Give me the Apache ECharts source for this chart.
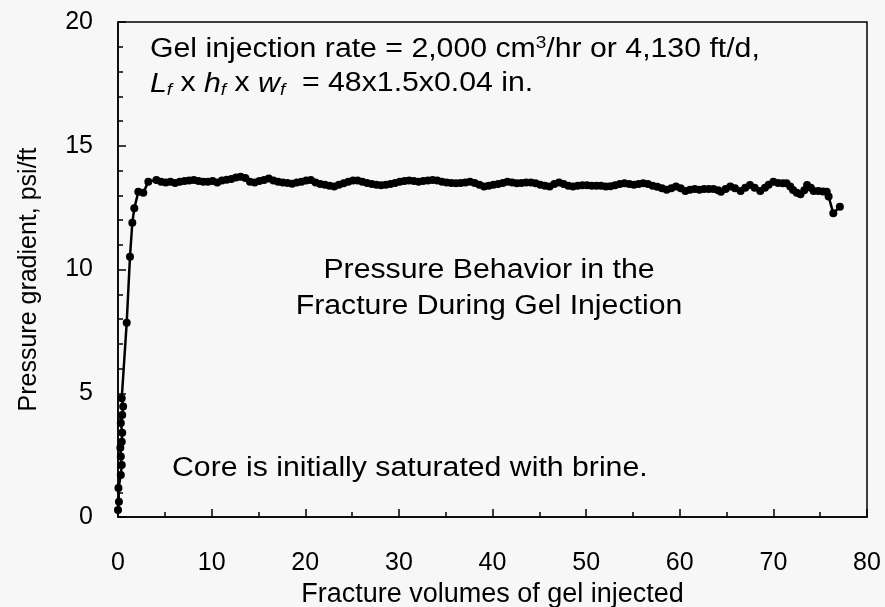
<!DOCTYPE html>
<html>
<head>
<meta charset="utf-8">
<script src="https://cdn.jsdelivr.net/npm/echarts@6/dist/echarts.min.js"></script>
<style>
  html, body { margin: 0; padding: 0; background: #f7f7f7; }
  #chart { width: 885px; height: 607px; }
</style>
</head>
<body>
<div id="chart"></div>
<script>
// fracture volumes injected (x) and pressure gradient, psi/ft (y)
var fvInjected = [
  0.0, 0.1, 0.05, 0.3, 0.4, 0.3, 0.25, 0.4, 0.45, 0.3, 0.45, 0.55, 0.4, 0.93, 1.28, 1.53, 1.74, 2.17, 2.7, 3.24, 4.1,
  4.6, 5.1, 5.6, 6.1, 6.6, 7.1, 7.6, 8.1, 8.6, 9.1, 9.6, 10.1, 10.6, 11.1, 11.6, 12.1, 12.6, 13.1, 13.6, 14.1,
  14.6, 15.1, 15.6, 16.1, 16.6, 17.1, 17.6, 18.1, 18.6, 19.1, 19.6, 20.1, 20.6, 21.1, 21.6, 22.1, 22.6, 23.1, 23.6, 24.1,
  24.6, 25.1, 25.6, 26.1, 26.6, 27.1, 27.6, 28.1, 28.6, 29.1, 29.6, 30.1, 30.6, 31.1, 31.6, 32.1, 32.6, 33.1, 33.6, 34.1,
  34.6, 35.1, 35.6, 36.1, 36.6, 37.1, 37.6, 38.1, 38.6, 39.1, 39.6, 40.1, 40.6, 41.1, 41.6, 42.1, 42.6, 43.1, 43.6, 44.1,
  44.6, 45.1, 45.6, 46.1, 46.6, 47.1, 47.6, 48.1, 48.6, 49.1, 49.6, 50.1, 50.6, 51.1, 51.6, 52.1, 52.6, 53.1, 53.6, 54.1,
  54.6, 55.1, 55.6, 56.1, 56.6, 57.1, 57.6, 58.1, 58.6, 59.1, 59.6, 60.1, 60.6, 61.1, 61.6, 62.1, 62.6, 63.1, 63.6, 64.1,
  64.4, 64.9, 65.4, 65.9, 66.5, 67.0, 67.5, 68.0, 68.6, 69.1, 69.5, 70.0, 70.5, 71.0, 71.4, 71.8, 72.1, 72.5, 72.9, 73.3,
  73.6, 74.0, 74.3, 74.8, 75.3, 75.7, 75.9, 76.4, 77.1
];
var pressureGrad = [
  0.28, 0.62, 1.17, 1.7, 2.1, 2.44, 2.8, 3.04, 3.4, 3.8, 4.12, 4.46, 4.8, 7.85, 10.52, 11.89, 12.47, 13.14, 13.1, 13.55, 13.62,
  13.55, 13.52, 13.55, 13.5, 13.55, 13.58, 13.6, 13.62, 13.58, 13.55, 13.55, 13.58, 13.52, 13.6, 13.63, 13.66, 13.72, 13.75, 13.7, 13.55,
  13.52, 13.58, 13.62, 13.68, 13.6, 13.55, 13.52, 13.5, 13.46, 13.52, 13.55, 13.6, 13.62, 13.52, 13.45, 13.42, 13.38, 13.35, 13.42, 13.48,
  13.55, 13.6, 13.6, 13.55, 13.5, 13.45, 13.42, 13.4, 13.42, 13.45, 13.5, 13.55, 13.58, 13.6, 13.58, 13.55, 13.58, 13.6, 13.62, 13.6,
  13.55, 13.52, 13.5, 13.48, 13.5, 13.52, 13.55, 13.5, 13.42, 13.35, 13.38, 13.42, 13.45, 13.5, 13.55, 13.52, 13.48, 13.5, 13.52, 13.52,
  13.48, 13.42, 13.38, 13.35, 13.45, 13.52, 13.45, 13.38, 13.35, 13.38, 13.4, 13.4, 13.38, 13.38, 13.38, 13.35, 13.36, 13.4, 13.45, 13.48,
  13.45, 13.42, 13.45, 13.48, 13.45, 13.38, 13.34, 13.28, 13.22, 13.28, 13.35, 13.28, 13.17, 13.22, 13.25, 13.22, 13.25, 13.25, 13.25, 13.2,
  13.14, 13.25, 13.35, 13.28, 13.17, 13.3, 13.41, 13.3, 13.17, 13.3, 13.42, 13.55, 13.5, 13.48, 13.48, 13.35, 13.21, 13.1, 13.04, 13.2,
  13.41, 13.3, 13.17, 13.17, 13.15, 13.14, 12.95, 12.27, 12.54
];
var yTicks = [0, 5, 10, 15, 20];
var xTicks = [0, 10, 20, 30, 40, 50, 60, 70, 80];

var chart = echarts.init(document.getElementById("chart"));
var font = "'Liberation Sans', Arial, sans-serif";
var stretch = 1.12; // the scanned text is a bit wider than plain Arial

var points = [];
for (var i = 0; i < fvInjected.length; i++) {
  points.push([fvInjected[i], pressureGrad[i]]);
}

var option = {
  backgroundColor: "#f7f7f7",
  animation: false,
  textStyle: { fontFamily: font },
  grid: {
    left: 118,
    right: 18,
    top: 22,
    bottom: 90,
    outerBoundsMode: "none",
    show: true,
    borderColor: "#000",
    borderWidth: 1.5,
  },
  xAxis: {
    type: "value",
    min: xTicks[0],
    max: xTicks[xTicks.length - 1],
    interval: 10,
    name: "Fracture volumes of gel injected",
    nameLocation: "middle",
    nameGap: 57,
    nameTextStyle: { color: "#000", fontSize: 27, fontFamily: font },
    axisLine: { lineStyle: { color: "#000", width: 1.5 } },
    axisTick: { inside: true, length: 8, lineStyle: { color: "#000", width: 1.5 } },
    minorTick: { show: true, splitNumber: 2, length: 5, lineStyle: { color: "#000", width: 1.5 } },
    axisLabel: { color: "#000", fontSize: 25, margin: 34, fontFamily: font },
    splitLine: { show: false },
  },
  yAxis: {
    type: "value",
    min: yTicks[0],
    max: yTicks[yTicks.length - 1],
    interval: 5,
    name: "Pressure gradient, psi/ft",
    nameLocation: "middle",
    nameGap: 76,
    nameTextStyle: { color: "#000", fontSize: 25, fontFamily: font, padding: [0, 20, 0, 0] },
    axisLine: { lineStyle: { color: "#000", width: 1.5 } },
    axisTick: { inside: true, length: 8, lineStyle: { color: "#000", width: 1.5 } },
    minorTick: { show: true, splitNumber: 5, length: 5, lineStyle: { color: "#000", width: 1.5 } },
    axisLabel: { color: "#000", fontSize: 25, margin: 25, fontFamily: font },
    splitLine: { show: false },
  },
  series: [
    {
      type: "line",
      data: points,
      symbol: "circle",
      symbolSize: 8,
      color: "#000",
      lineStyle: { color: "#000", width: 2.5 },
      itemStyle: { color: "#000" },
    },
  ],
  graphic: [
    {
      type: "text",
      x: 150,
      y: 50,
      scaleX: stretch,
      style: {
        text: "{n|Gel injection rate = 2,000 cm}{sup|3}{n|/hr or 4,130 ft/d,}",
        verticalAlign: "middle",
        rich: {
          n: { fontSize: 27, fontFamily: font, fill: "#000", lineHeight: 30 },
          sup: { fontSize: 17, fontFamily: font, fill: "#000", verticalAlign: "top", lineHeight: 24 },
        },
      },
    },
    {
      type: "text",
      x: 150,
      y: 84,
      scaleX: stretch,
      style: {
        text: "{i|L}{s|f}{n| x }{i|h}{s|f}{n| x }{i|w}{s|f}{n|  = 48x1.5x0.04 in.}",
        verticalAlign: "middle",
        rich: {
          n: { fontSize: 27, fontFamily: font, fill: "#000", lineHeight: 30 },
          i: { fontSize: 27, fontFamily: font, fontStyle: "italic", fill: "#000", lineHeight: 30 },
          s: { fontSize: 17, fontFamily: font, fontStyle: "italic", fill: "#000", verticalAlign: "bottom", lineHeight: 30 },
        },
      },
    },
    {
      type: "text",
      x: 489,
      y: 271,
      scaleX: stretch,
      style: {
        text: "Pressure Behavior in the",
        font: "27px " + font,
        fill: "#000",
        align: "center",
        verticalAlign: "middle",
      },
    },
    {
      type: "text",
      x: 489,
      y: 307,
      scaleX: stretch,
      style: {
        text: "Fracture During Gel Injection",
        font: "27px " + font,
        fill: "#000",
        align: "center",
        verticalAlign: "middle",
      },
    },
    {
      type: "text",
      x: 172,
      y: 469,
      scaleX: stretch,
      style: {
        text: "Core is initially saturated with brine.",
        font: "27px " + font,
        fill: "#000",
        align: "left",
        verticalAlign: "middle",
      },
    },
  ],
};
chart.setOption(option);
</script>
</body>
</html>
